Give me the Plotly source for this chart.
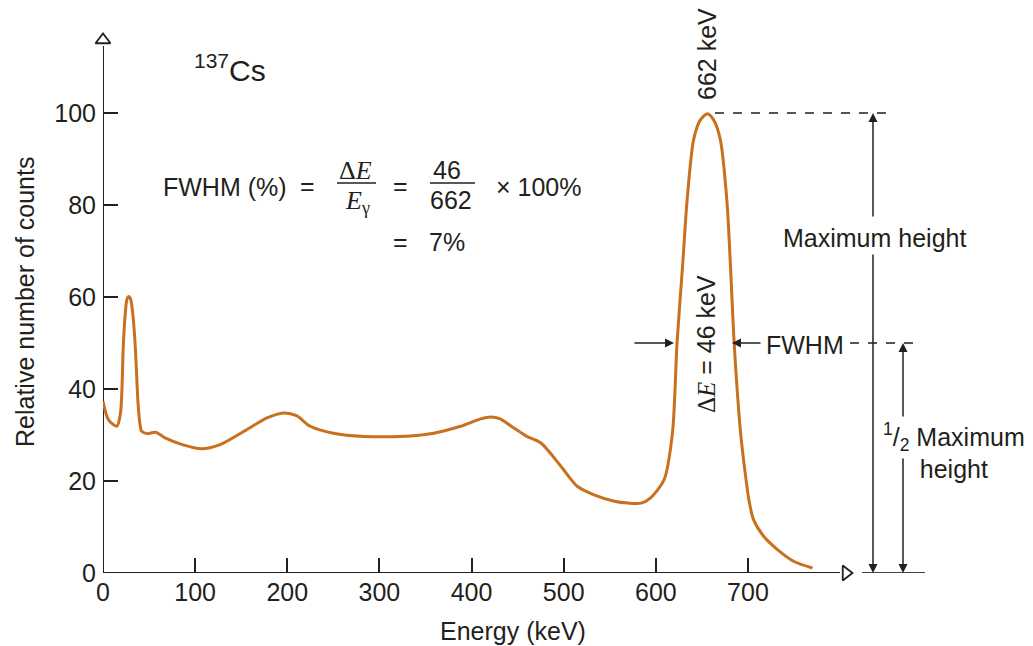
import plotly.graph_objects as go

# ---- data (137Cs gamma spectrum) ----
energy_kev = [0, 6, 15, 19, 22, 24, 26, 28, 30, 32.5, 35, 38, 40, 42, 48, 57, 68, 86, 107, 127,
              153, 178, 196, 210, 225, 250, 283, 323, 359, 388, 410, 421, 431, 446, 460, 475,
              497, 515, 533, 555, 570, 584, 594, 609, 618, 623, 629, 634, 641, 648, 656, 663,
              670, 677, 681, 685, 692, 697, 701, 706, 717, 732, 750, 770]
rel_counts = [37.3, 33.3, 31.9, 34.8, 49.3, 56.0, 59.5, 60.1, 59.5, 56.0, 49.3, 37.0, 32.5, 30.8,
              30.3, 30.6, 29.3, 27.9, 27.0, 27.9, 30.8, 33.7, 34.8, 34.2, 31.9, 30.4, 29.7, 29.7,
              30.4, 31.9, 33.5, 33.9, 33.5, 31.5, 29.7, 28.3, 23.2, 18.8, 17.0, 15.6, 15.2, 15.2,
              16.3, 20.3, 30.4, 50.0, 66.7, 81.2, 94.2, 98.4, 99.85, 98.4, 94.2, 81.2, 66.7, 50.0,
              30.4, 21.7, 15.9, 11.6, 8.0, 5.1, 2.5, 1.1]
x_ticks = [0, 100, 200, 300, 400, 500, 600, 700]
y_ticks = [0, 20, 40, 60, 80, 100]
peak_max = 100
half_max = 50

# ---- layout geometry (screen px; the page body adds an 8 px offset) ----
OFF = 8
W, H = 1033 - OFF, 646 - OFF
L, T = 103 - OFF, 30 - OFF
B = H - (573 - OFF)
R = 30
KX = 0.9214  # px per keV
KY = 4.6     # px per count unit
PW = W - L - R
PH = H - T - B
XMAX = PW / KX
YMAX = PH / KY


def X(px):
    return (px - 103) / KX


def Y(py):
    return (573 - py) / KY


def PX(px):
    return (px - 103) / PW


def PY(py):
    return (573 - py) / PH


INK = "#231f20"
FONT = "Liberation Sans"
SERIF = "Liberation Serif"
FS = 25

fig = go.Figure()
fig.add_trace(go.Scatter(x=energy_kev, y=rel_counts, mode="lines",
                         line=dict(color="#c8701e", width=3, shape="spline", smoothing=0.8),
                         hoverinfo="skip", cliponaxis=False))

# axis arrow heads
fig.add_trace(go.Scatter(x=[0], y=[Y(40)], mode="markers", cliponaxis=False, hoverinfo="skip",
                         marker=dict(symbol="triangle-up", size=13, color="white",
                                     line=dict(color=INK, width=1.8))))
fig.add_trace(go.Scatter(x=[X(846)], y=[0], mode="markers", cliponaxis=False, hoverinfo="skip",
                         marker=dict(symbol="triangle-right", size=13, color="white",
                                     line=dict(color=INK, width=1.8))))

shapes = [
    dict(type="line", x0=0, x1=0, y0=0, y1=Y(46), line=dict(color=INK, width=2), layer="below"),
    dict(type="line", x0=0, x1=X(840), y0=0, y1=0, line=dict(color=INK, width=2), layer="below"),
    dict(type="line", x0=X(715), x1=X(888), y0=peak_max, y1=peak_max,
         line=dict(color="#555555", width=2, dash="dash")),
    dict(type="line", x0=X(850), x1=X(918), y0=half_max, y1=half_max,
         line=dict(color="#555555", width=2, dash="dash")),
    dict(type="line", x0=X(862), x1=X(925), y0=0, y1=0, line=dict(color="#444444", width=2)),
    # fraction bars
    dict(type="line", x0=X(337), x1=X(376), y0=Y(183), y1=Y(183), line=dict(color=INK, width=1.5)),
    dict(type="line", x0=X(430), x1=X(475), y0=Y(183), y1=Y(183), line=dict(color=INK, width=1.5)),
]

anns = []


def arrow(xh, yh, xt, yt):
    anns.append(dict(x=xh, y=yh, ax=xt, ay=yt, xref="x", yref="y", axref="x", ayref="y",
                     text="", showarrow=True, arrowhead=2, arrowsize=1.2, arrowwidth=1.5,
                     arrowcolor=INK))


def txt(s, px, py, size=FS, angle=0, family=FONT, xanchor="center"):
    anns.append(dict(x=PX(px), y=PY(py), xref="paper", yref="paper", text=s, showarrow=False,
                     textangle=angle, xanchor=xanchor, yanchor="middle",
                     font=dict(family=family, size=size, color=INK)))


# maximum height arrows
arrow(X(873), peak_max, X(873), Y(218))
arrow(X(873), 0, X(873), Y(253))
# half maximum arrows
arrow(X(903), half_max, X(903), Y(418))
arrow(X(903), 0, X(903), Y(457))
# FWHM arrows
arrow(X(674), half_max, X(633), half_max)
arrow(X(732), half_max, X(762), half_max)

txt("662 keV", 707, 54, angle=-90)
txt("<span style='font-family:Liberation Serif'>Δ<i>E</i></span> = 46 keV", 706, 344, angle=-90)
txt("FWHM", 805, 345)
txt("Maximum height", 874, 238)
txt("<sup>1</sup>/<sub>2</sub> Maximum<br>height", 954, 451)
txt("<sup>137</sup>Cs", 230, 68, size=30)

# formula
txt("FWHM (%)", 225, 187)
txt("=", 307, 186)
txt("Δ<i>E</i>", 355, 170, family=SERIF, size=26)
txt("<i>E</i><sub>γ</sub>", 357, 202, family=SERIF, size=26)
txt("=", 400, 186)
txt("46", 447, 170)
txt("662", 451, 200)
txt("× 100%", 539, 187)
txt("=", 400, 242)
txt("7%", 447, 242)

# axis titles
txt("Energy (keV)", 513, 631)
txt("Relative number of counts", 25, 302, angle=-90)

fig.update_layout(
    width=W, height=H,
    margin=dict(l=L, r=R, t=T, b=B, pad=0),
    paper_bgcolor="white", plot_bgcolor="white",
    showlegend=False,
    shapes=shapes, annotations=anns,
    font=dict(family=FONT, size=FS, color=INK),
    xaxis=dict(range=[0, XMAX], showgrid=False, zeroline=False, showline=False,
               tickvals=x_ticks, ticks="inside", ticklen=15, tickwidth=2, tickcolor=INK,
               ticklabelstandoff=2,
               tickfont=dict(family=FONT, size=FS, color=INK)),
    yaxis=dict(range=[0, YMAX], showgrid=False, zeroline=False, showline=False,
               tickvals=y_ticks, ticks="inside", ticklen=15, tickwidth=2, tickcolor=INK,
               ticklabelstandoff=6,
               tickfont=dict(family=FONT, size=FS, color=INK)),
)

fig.write_html("out.html")
